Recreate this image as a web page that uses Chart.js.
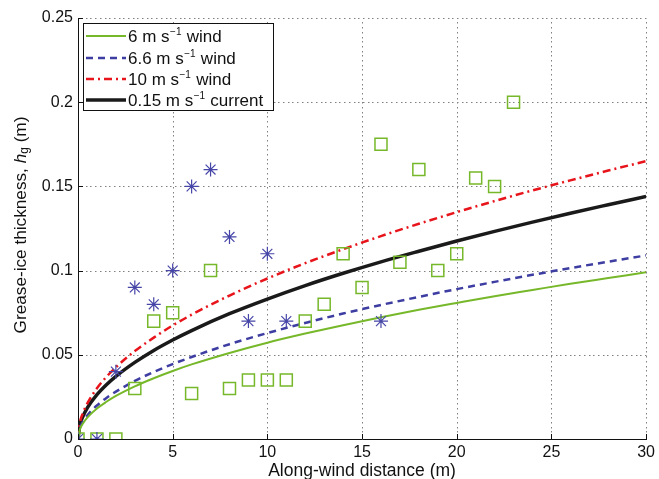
<!DOCTYPE html>
<html><head><meta charset="utf-8">
<script src="https://cdn.jsdelivr.net/npm/chart.js@4/dist/chart.umd.min.js"></script>
<style>html,body{margin:0;padding:0;background:#fff}</style>
</head><body>
<canvas id="c" width="659" height="479" style="display:block;width:659px;height:479px"></canvas>
<script>
// ---- data ----
const squareDistance = [0,1,2,3,4,5,6,7,8,9,10,11,12,13,14,15,16,17,18,19,20,21,22,23];
const squareThickness = [0,0,0,0.03,0.07,0.075,0.027,0.1,0.03,0.035,0.035,0.035,0.07,0.08,0.11,0.09,0.175,0.105,0.16,0.1,0.11,0.155,0.15,0.2];
const starDistance = [0,1,2,3,4,5,6,7,8,9,10,11,16];
const starThickness = [0,0,0.04,0.09,0.08,0.1,0.15,0.16,0.12,0.07,0.11,0.07,0.07];
const curveDistance = [0,0.1,0.25,0.5,1,1.5,2,3,4,5,6,8,10,12,14,16,18,20,22,24,26,28,30];
const wind6 = [0,0.0057,0.0090,0.0128,0.0181,0.0221,0.0256,0.0313,0.0361,0.0404,0.0443,0.0511,0.0572,0.0626,0.0676,0.0723,0.0767,0.0808,0.0848,0.0885,0.0922,0.0956,0.099];
const wind66 = [0,0.0063,0.0100,0.0141,0.0199,0.0244,0.0281,0.0345,0.0398,0.0445,0.0487,0.0563,0.0629,0.0689,0.0745,0.0796,0.0844,0.0890,0.0933,0.0975,0.1015,0.1053,0.109];
const wind10 = [0,0.0095,0.0151,0.0213,0.0301,0.0369,0.0426,0.0522,0.0602,0.0674,0.0738,0.0852,0.0953,0.1044,0.1127,0.1205,0.1278,0.1347,0.1413,0.1476,0.1536,0.1594,0.165];
const current015 = [0,0.0083,0.0131,0.0186,0.0263,0.0322,0.0372,0.0455,0.0526,0.0588,0.0644,0.0744,0.0831,0.0911,0.0984,0.1052,0.1115,0.1176,0.1233,0.1288,0.1341,0.1391,0.144];
const xTicks = [0,5,10,15,20,25,30];
const yTicks = [0,0.05,0.1,0.15,0.2,0.25];
const legendLabels = ['6', '6.6', '10', '0.15'];
const legendWords = ['wind', 'wind', 'wind', 'current'];
const xTitle = 'Along-wind distance (m)';

const FONT = "'Liberation Sans', Arial, Helvetica, sans-serif";
const GREEN = '#76B82A', BLUE = '#3E3EA2', RED = '#E8141B', BLACK = '#1a1a1a';

const pts = (xs, ys) => xs.map((x, i) => ({x, y: ys[i]}));

const lineStyles = [
  {color: GREEN, width: 2, dash: []},
  {color: BLUE, width: 2.5, dash: [7, 5]},
  {color: RED, width: 2.5, dash: [8, 4, 2, 4]},
  {color: BLACK, width: 3.5, dash: []}
];
const curveData = [wind6, wind66, wind10, current015];

const datasets = [
  {type: 'scatter', data: pts(starDistance, starThickness), pointStyle: 'star', radius: 7,
   borderColor: '#4646A8', backgroundColor: '#4646A8', borderWidth: 1.2},
  {type: 'scatter', data: pts(squareDistance, squareThickness), pointStyle: 'rect', radius: 8.5,
   borderColor: GREEN, backgroundColor: 'rgba(0,0,0,0)', borderWidth: 1.5}
];
curveData.forEach((d, i) => {
  const s = lineStyles[i];
  datasets.push({type: 'line', data: pts(curveDistance, d), borderColor: s.color, borderWidth: s.width,
    borderDash: s.dash, pointRadius: 0, fill: false, tension: 0.4, cubicInterpolationMode: 'monotone'});
});

const gridPlugin = {
  id: 'dottedGrid',
  beforeDatasetsDraw(chart) {
    const ctx = chart.ctx, ca = chart.chartArea, xs = chart.scales.x, ys = chart.scales.y;
    ctx.save();
    ctx.fillStyle = '#808080';
    // dotted grid drawn as small dots
    xTicks.slice(1).forEach(v => { const px = Math.round(xs.getPixelForValue(v));
      for (let y = ca.bottom - 3; y >= ca.top; y -= 4.7) ctx.fillRect(px, Math.round(y), 1, 1.5); });
    yTicks.slice(1).forEach(v => { const py = Math.round(ys.getPixelForValue(v));
      for (let x = ca.left + 3; x <= ca.right; x += 4.7) ctx.fillRect(Math.round(x), py, 1.5, 1); });
    ctx.restore();
  }
};

const overlay = {
  id: 'overlay',
  afterDraw(chart) {
    const ctx = chart.ctx, ca = chart.chartArea, xs = chart.scales.x, ys = chart.scales.y;
    ctx.save();
    // inward tick marks
    ctx.strokeStyle = '#111'; ctx.lineWidth = 1;
    ctx.beginPath();
    xTicks.forEach(v => { const px = Math.round(xs.getPixelForValue(v)) + 0.5;
      ctx.moveTo(px, ca.bottom); ctx.lineTo(px, ca.bottom - 5); });
    yTicks.forEach(v => { const py = Math.round(ys.getPixelForValue(v)) + 0.5;
      ctx.moveTo(ca.left, py); ctx.lineTo(ca.left + 5, py); });
    ctx.stroke();

    // x axis title
    ctx.fillStyle = '#111'; ctx.textAlign = 'center'; ctx.textBaseline = 'alphabetic';
    ctx.font = '17.5px ' + FONT;
    ctx.fillText(xTitle, (ca.left + ca.right) / 2, 476);

    // legend
    const bx = 83.5, by = 23.5, bw = 190, bh = 87;
    ctx.fillStyle = '#fff'; ctx.fillRect(bx, by, bw, bh);
    ctx.strokeStyle = '#111'; ctx.lineWidth = 1; ctx.strokeRect(bx, by, bw, bh);
    const rows = [36, 58, 79, 100];
    rows.forEach((ry, i) => {
      const s = lineStyles[i];
      ctx.save();
      ctx.strokeStyle = s.color; ctx.lineWidth = s.width; ctx.setLineDash(s.dash);
      ctx.beginPath(); ctx.moveTo(86, ry); ctx.lineTo(126, ry); ctx.stroke();
      ctx.restore();
      ctx.fillStyle = '#111'; ctx.textBaseline = 'middle'; ctx.textAlign = 'left';
      let x = 128;
      ctx.font = '17px ' + FONT;
      const t1 = legendLabels[i] + ' m s';
      ctx.fillText(t1, x, ry + 1); x += ctx.measureText(t1).width;
      ctx.font = '10px ' + FONT;
      ctx.fillText('\u22121', x + 0.5, ry - 4); x += ctx.measureText('\u22121').width + 1;
      ctx.font = '17px ' + FONT;
      ctx.fillText(' ' + legendWords[i], x, ry + 1);
    });

    // y axis title with italic h and subscript g
    ctx.translate(21, 225);
    ctx.rotate(-Math.PI / 2);
    const parts = [
      {t: 'Grease-ice thickness, ', f: '17.2px ' + FONT, dy: 0},
      {t: 'h', f: 'italic 17.2px ' + FONT, dy: 0},
      {t: 'g', f: '12px ' + FONT, dy: 4},
      {t: ' (m)', f: '17.2px ' + FONT, dy: 0}
    ];
    let total = 0;
    parts.forEach(p => { ctx.font = p.f; p.w = ctx.measureText(p.t).width; total += p.w; });
    let x = -total / 2;
    ctx.fillStyle = '#111'; ctx.textBaseline = 'middle'; ctx.textAlign = 'left';
    parts.forEach(p => { ctx.font = p.f; ctx.fillText(p.t, x, p.dy); x += p.w; });
    ctx.restore();
  }
};

new Chart(document.getElementById('c'), {
  data: {datasets},
  options: {
    responsive: false, animation: false, devicePixelRatio: 1,
    layout: {padding: {top: 18, right: 9, left: 0, bottom: 0}},
    plugins: {legend: {display: false}, tooltip: {enabled: false}},
    scales: {
      x: {type: 'linear', min: 0, max: 30,
        afterBuildTicks: s => { s.ticks = xTicks.map(v => ({value: v})); },
        afterFit: s => { s.height = 40; },
        ticks: {color: '#111', font: {size: 16, family: FONT}, padding: 4, maxRotation: 0},
        grid: {display: false, drawTicks: false},
        border: {display: true, color: '#111', width: 1},
        title: {display: false}
      },
      y: {type: 'linear', min: 0, max: 0.25,
        afterBuildTicks: s => { s.ticks = yTicks.map(v => ({value: v})); },
        afterFit: s => { s.width = 78; },
        ticks: {color: '#111', font: {size: 16, family: FONT}, padding: 5,
          callback: v => String(Math.round(v * 100) / 100)},
        grid: {display: false, drawTicks: false},
        border: {display: true, color: '#111', width: 1}
      }
    }
  },
  plugins: [gridPlugin, overlay]
});
</script>
</body></html>
